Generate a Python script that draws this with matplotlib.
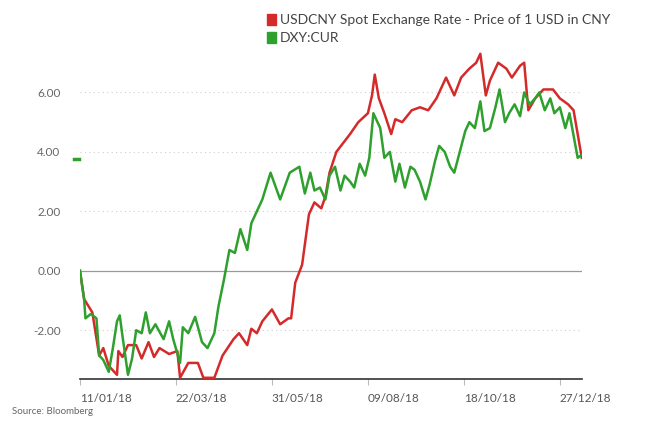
import matplotlib
matplotlib.use("Agg")
import matplotlib.pyplot as plt
import matplotlib.dates as mdates
import numpy as np
import pandas as pd

plt.rcParams["font.family"] = "Lato"

# days after 11 Jan 2018, percentage change
usd_days = [0, 3, 9, 14, 17, 21, 27, 28, 31, 35, 41, 45, 50, 54, 58, 65, 71, 73, 79, 86, 90, 98,
            104, 112, 116, 122, 125, 129, 133, 140, 146, 152, 154, 157, 162, 167, 171, 176, 179,
            182, 187, 197, 203, 210, 213, 215, 218, 222, 227, 230, 235, 242, 248, 254, 260, 267,
            273, 278, 284, 289, 292, 296, 299, 305, 311, 315, 321, 324, 327, 332, 338, 345, 350,
            356, 360, 363, 366]
usd_vals = [0, -0.95, -1.4, -2.85, -2.6, -3.2, -3.5, -2.7, -2.9, -2.5, -2.5, -2.95, -2.4, -2.9,
            -2.6, -2.8, -2.7, -3.6, -3.1, -3.1, -3.6, -3.6, -2.85, -2.3, -2.1, -2.5, -1.95, -2.1,
            -1.7, -1.3, -1.8, -1.6, -1.6, -0.4, 0.2, 1.9, 2.3, 2.1, 2.5, 3.3, 4.0, 4.6, 5.0, 5.3,
            5.9, 6.6, 5.8, 5.3, 4.6, 5.1, 5.0, 5.4, 5.5, 5.4, 5.8, 6.5, 5.9, 6.5, 6.8, 7.0, 7.3,
            5.9, 6.4, 7.0, 6.8, 6.5, 6.9, 7.0, 5.4, 5.8, 6.1, 6.1, 5.8, 5.6, 5.4, 4.6, 3.8]

dxy_days = [0, 3, 4, 8, 12, 14, 17, 21, 24, 27, 29, 31, 35, 38, 41, 45, 48, 51, 55, 61, 65, 68,
            73, 75, 79, 84, 89, 93, 98, 101, 105, 109, 113, 117, 122, 125, 129, 133, 139, 146,
            153, 160, 164, 168, 171, 175, 179, 182, 186, 190, 193, 197, 200, 204, 208, 211, 214,
            219, 222, 226, 230, 233, 237, 241, 244, 248, 252, 255, 259, 262, 266, 270, 273, 277,
            281, 284, 288, 292, 295, 299, 303, 306, 310, 313, 317, 321, 324, 328, 332, 335, 339,
            343, 346, 350, 354, 357, 361, 363, 366]
dxy_vals = [0, -0.95, -1.6, -1.45, -1.6, -2.85, -3.0, -3.4, -2.6, -1.7, -1.5, -2.2, -3.5, -2.95,
            -2.0, -2.1, -1.4, -2.1, -1.8, -2.3, -1.7, -2.3, -3.1, -1.9, -2.1, -1.55, -2.4, -2.6,
            -2.1, -1.2, -0.3, 0.7, 0.6, 1.4, 0.7, 1.6, 2.0, 2.4, 3.3, 2.4, 3.3, 3.5, 2.6, 3.3,
            2.7, 2.8, 2.4, 3.2, 3.5, 2.7, 3.2, 3.0, 2.8, 3.6, 3.2, 3.8, 5.3, 4.8, 3.8, 4.0, 3.0,
            3.6, 2.8, 3.5, 3.4, 3.0, 2.4, 2.9, 3.7, 4.2, 4.0, 3.5, 3.3, 4.0, 4.7, 5.0, 4.8, 5.7,
            4.7, 4.8, 5.5, 6.1, 5.0, 5.3, 5.6, 5.2, 6.0, 5.6, 5.8, 6.0, 5.4, 5.8, 5.3, 5.5, 4.8,
            5.3, 4.3, 3.8, 3.9]

tick_labels = ["11/01/18", "22/03/18", "31/05/18", "09/08/18", "18/10/18", "27/12/18"]
y_ticks = [-2, 0, 2, 4, 6]

start = pd.Timestamp("2018-01-11")
usd_x = start + pd.to_timedelta(usd_days, unit="D")
dxy_x = start + pd.to_timedelta(dxy_days, unit="D")
tick_x = [pd.Timestamp(pd.to_datetime(t, format="%d/%m/%y")) for t in tick_labels]

red = "#d42a2a"
green = "#2ea02e"

fig = plt.figure(figsize=(6.45, 4.43), dpi=100)
fig.patch.set_facecolor("white")
ax = fig.add_axes([0.124, 0.1445, 0.778, 0.7475])
ax.set_facecolor("white")

for y in y_ticks:
    if y == 0:
        ax.axhline(0, color="#999999", lw=0.9, zorder=1)
    else:
        ax.axhline(y, color="#cccccc", lw=0.8, ls=(0, (1, 3)), zorder=1)

ax.plot(usd_x, usd_vals, color=red, lw=1.8, zorder=3)
ax.plot(dxy_x, dxy_vals, color=green, lw=1.8, zorder=3)

ax.set_xlim(start, start + pd.Timedelta(days=366))
ax.set_ylim(-3.64, 7.5)
ax.set_xticks(tick_x)
ax.set_xticklabels(tick_labels, color="#555555", fontsize=8.5, ha="left")
ax.set_yticks(y_ticks)
ax.set_yticklabels([f"{v:.2f}" for v in y_ticks], color="#666666", fontsize=8.5)
ax.tick_params(axis="y", length=0, pad=14)
ax.tick_params(axis="x", length=4, color="#bbbbbb", pad=6)
for s in ["top", "right", "left"]:
    ax.spines[s].set_visible(False)
ax.spines["bottom"].set_color("#333333")
ax.spines["bottom"].set_linewidth(1.2)

# last-value marker for DXY on left edge
ax.plot([-0.012, -0.002], [3.75, 3.75], transform=ax.get_yaxis_transform(),
        color=green, lw=2.5, clip_on=False)

# legend
fig.patches.append(plt.Rectangle((267 / 645, 1 - 25 / 443), 9 / 645, 11 / 443,
                                 transform=fig.transFigure, color=red))
fig.patches.append(plt.Rectangle((267 / 645, 1 - 43 / 443), 9 / 645, 11 / 443,
                                 transform=fig.transFigure, color=green))
fig.text(280 / 645, 1 - 20 / 443, "USDCNY Spot Exchange Rate - Price of 1 USD in CNY",
         fontsize=10, color="#444444", va="center")
fig.text(280 / 645, 1 - 38 / 443, "DXY:CUR", fontsize=10, color="#444444", va="center")

fig.text(12 / 645, 1 - 412 / 443, "Source: Bloomberg", fontsize=7, color="#666666", va="center")

fig.savefig("out.png", dpi=100)
